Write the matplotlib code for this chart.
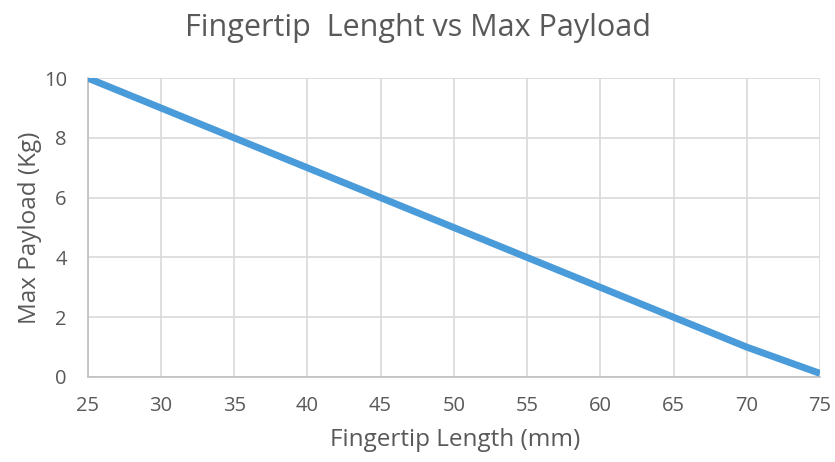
import matplotlib
matplotlib.use('Agg')
import matplotlib.pyplot as plt

# データ
lengths = [25, 30, 35, 40, 45, 50, 55, 60, 65, 70, 75]
payloads = [10, 9, 8, 7, 6, 5, 4, 3, 2, 1, 0.12]
x_ticks = [25, 30, 35, 40, 45, 50, 55, 60, 65, 70, 75]
y_ticks = [0, 2, 4, 6, 8, 10]

plt.rcParams['font.family'] = ['Open Sans', 'DejaVu Sans']
text_color = '#595959'

fig = plt.figure(figsize=(8.35, 4.62), dpi=100)
ax = fig.add_axes([0.105, 0.184, 0.877, 0.647])

ax.plot(lengths, payloads, color='#4a9bd9', linewidth=5, solid_capstyle='butt', zorder=3)

ax.set_xlim(25, 75)
ax.set_ylim(0, 10)
ax.set_xticks(x_ticks)
ax.set_yticks(y_ticks)
ax.grid(True, color='#d9d9d9', linewidth=1.2)
ax.set_axisbelow(True)
for s in ['top', 'right']:
    ax.spines[s].set_visible(False)
for s in ['left', 'bottom']:
    ax.spines[s].set_color('#bfbfbf')
    ax.spines[s].set_linewidth(1.2)
ax.tick_params(length=0, labelsize=14.5, colors=text_color)
ax.tick_params(axis='x', pad=14)
ax.tick_params(axis='y', pad=15)

# 軸ラベルとタイトル
fig.text(455 / 835, 1 - 440 / 462, 'Fingertip Length (mm)', fontsize=17.5,
         color=text_color, ha='center', va='center')
fig.text(30 / 835, 1 - 228 / 462, 'Max Payload (Kg)', fontsize=17.5,
         color=text_color, ha='center', va='center', rotation=90)
fig.text(418 / 835, 1 - 28 / 462, 'Fingertip  Lenght vs Max Payload', fontsize=22,
         color=text_color, ha='center', va='center')

fig.savefig('out.png', dpi=100)
